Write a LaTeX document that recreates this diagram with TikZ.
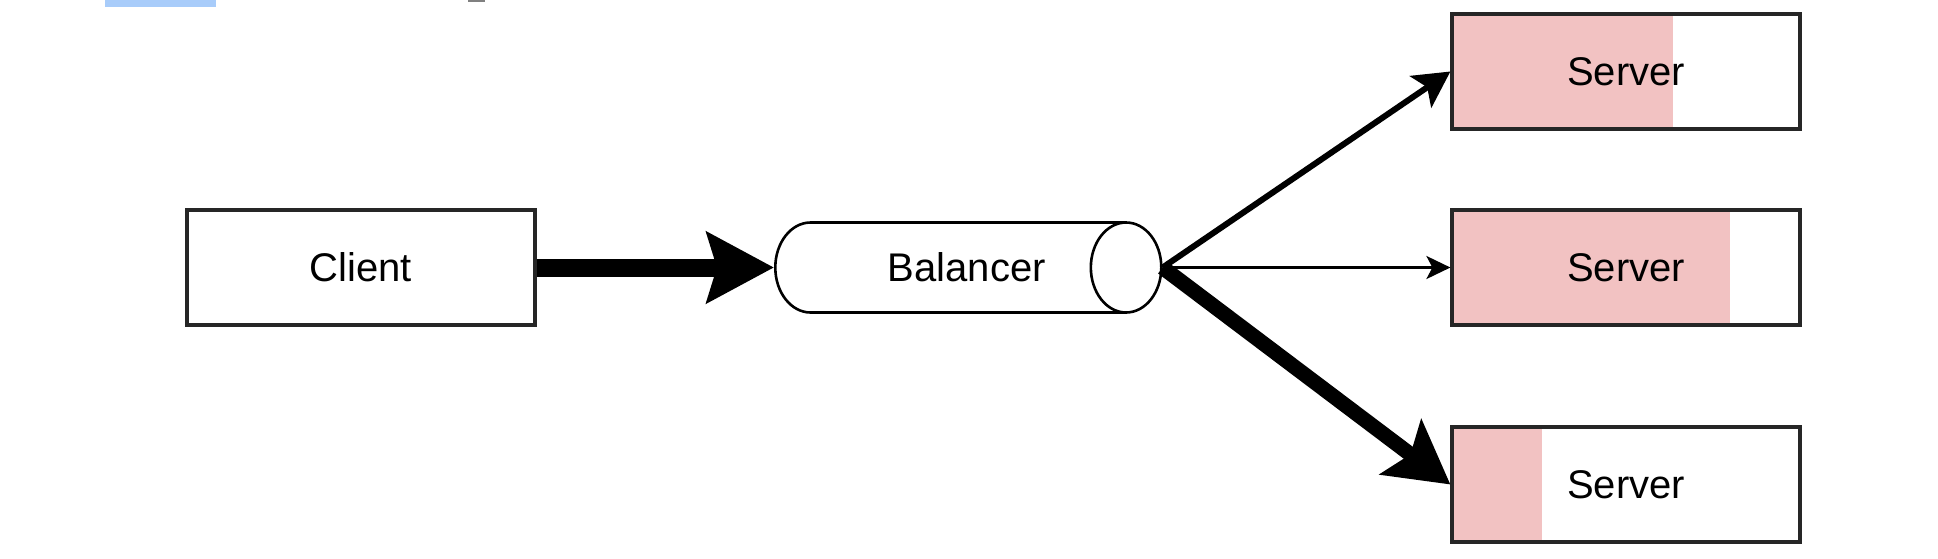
\documentclass[tikz,border=0pt]{standalone}
\usepackage{fontspec}
\setmainfont{Liberation Sans}
\usetikzlibrary{arrows.meta,shapes.geometric}
\definecolor{charge}{HTML}{F2C2C2}
\definecolor{bleu}{HTML}{A8CCFA}
\tikzset{
	boite/.style={draw=black!85,line width=1.6pt,minimum width=174pt,minimum height=57.5pt,font=\fontsize{20}{22}\selectfont},
	cuve/.style={cylinder,draw=black,line width=1.3pt,minimum height=193pt,minimum width=45pt,aspect=1.65,font=\fontsize{20}{22}\selectfont},
}
\begin{document}
\begin{tikzpicture}[x=.5pt,y=-.5pt]
		\useasboundingbox (0,0) rectangle (1938,558);
		\fill[bleu] (105,0) rectangle (216,7);
		\fill[gray] (468,0) rectangle (485,1.5);
		
		\node[boite] (client) at (361,267.5) {Client};
		\node[cuve,anchor=west] (balancer) at (774,267.5) {\hspace*{26pt}Balancer};
		\foreach \n/\y/\c in {s1/71.5/221,s2/267.5/278,s3/484.5/90}{
			\fill[charge] (1452,\y-57.5) rectangle (1452+\c,\y+57.5);%remplissage
			\node[boite] (\n) at (1626,\y) {Server};}
		
		\draw[-{Stealth[length=33.5pt,width=35pt,inset=5pt]},line width=9pt] (client) -- (balancer);
		\draw[-{Stealth[length=18pt,width=19pt,inset=4pt]},line width=3pt] (balancer.east) -- (s1.west);
		\draw[-{Stealth[length=12pt,width=11.5pt,inset=3pt]},line width=1.3pt] (balancer.east) -- (s2.west);
		\draw[-{Stealth[length=31pt,width=34pt,inset=6pt]},line width=7.5pt] (balancer.east) -- (s3.west);
	\end{tikzpicture}
\end{document}
